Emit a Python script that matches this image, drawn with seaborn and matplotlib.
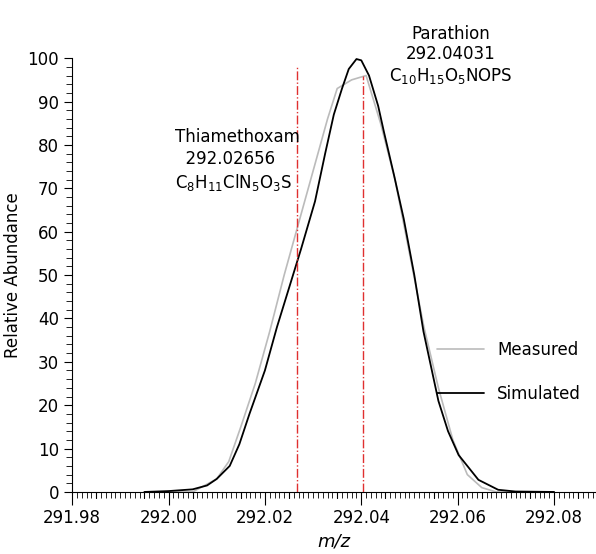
import numpy as np
import matplotlib.pyplot as plt
import seaborn as sns
from matplotlib.ticker import MultipleLocator

sim_mz = [291.995, 292.000, 292.005, 292.008, 292.010, 292.0127, 292.0147, 292.0168, 292.020, 292.0225,
          292.025, 292.0275, 292.0304, 292.0325, 292.0343, 292.036, 292.0374, 292.039, 292.040, 292.0416,
          292.0435, 292.0447, 292.0468, 292.0488, 292.051, 292.0529, 292.056, 292.058, 292.0602, 292.0643,
          292.0684, 292.072, 292.080]
sim_ab = [0, 0.2, 0.6, 1.5, 3, 6, 11, 18, 28, 38,
          47, 56, 67, 78, 87, 93, 97.5, 99.8, 99.5, 96,
          89, 83, 73, 63, 50, 37, 21, 14, 8.5, 2.8,
          0.5, 0.1, 0]
meas_mz = [291.995, 292.005, 292.010, 292.0125, 292.015, 292.018, 292.021, 292.024, 292.027, 292.030, 292.033,
           292.035, 292.038, 292.041, 292.044, 292.047, 292.050, 292.053, 292.056, 292.059, 292.062,
           292.065, 292.068, 292.080]
meas_ab = [0, 0, 3, 7, 15, 25, 37, 50, 62, 74, 86,
           93, 95, 96, 85, 72, 55, 38, 24, 12, 4,
           1, 0, 0]
markers = [292.02656, 292.04031]

sns.set_style("ticks")
plt.rcParams['font.family'] = ['Liberation Sans Narrow', 'DejaVu Sans']
plt.rcParams['text.color'] = 'black'
plt.rcParams['xtick.color'] = 'black'
plt.rcParams['ytick.color'] = 'black'
plt.rcParams['axes.labelcolor'] = 'black'
fig, ax = plt.subplots(figsize=(5.96, 5.54), dpi=100)
fig.subplots_adjust(left=0.121, right=1.0, bottom=0.112, top=0.895)

sns.lineplot(x=meas_mz, y=meas_ab, ax=ax, color='#bbbbbb', lw=1.2, label='Measured')
sns.lineplot(x=sim_mz, y=sim_ab, ax=ax, color='black', lw=1.3, label='Simulated')
ax.vlines(markers[0], 0, 98, color='#e03030', ls='-.', lw=1)
ax.vlines(markers[1], 0, 96, color='#e03030', ls='-.', lw=1)

ax.set_xlim(291.98, 292.0887)
ax.set_ylim(0, 100)
ax.xaxis.set_major_locator(MultipleLocator(0.02))
ax.xaxis.set_minor_locator(MultipleLocator(0.001))
ax.yaxis.set_major_locator(MultipleLocator(10))
ax.yaxis.set_minor_locator(MultipleLocator(2))
ax.xaxis.set_major_formatter(plt.FormatStrFormatter('%.2f'))
ax.tick_params(axis='x', which='major', length=9, labelsize=12)
ax.tick_params(axis='x', which='minor', length=4)
ax.tick_params(axis='y', which='major', length=6, labelsize=12)
ax.tick_params(axis='y', which='minor', length=4)
for v in np.arange(291.985, 292.09, 0.01):
    ax.plot([v, v], [0, -0.013], transform=ax.get_xaxis_transform(), clip_on=False, color='black', lw=0.8)
sns.despine(ax=ax)
ax.spines['left'].set_color('black')
ax.spines['bottom'].set_color('black')
ax.set_xlabel('m/z', fontsize=13, style='italic')
ax.set_ylabel('Relative Abundance', fontsize=12)

ax.text(292.0585, 93.5, 'Parathion\n292.04031\nC$_{10}$H$_{15}$O$_5$NOPS', ha='center', va='bottom',
        fontsize=12, linespacing=1.2)
ax.text(292.0013, 69, 'Thiamethoxam\n  292.02656\nC$_8$H$_{11}$ClN$_5$O$_3$S', ha='left', va='bottom',
        fontsize=12, linespacing=1.25)
ax.legend(loc='lower right', bbox_to_anchor=(1.0, 0.17), frameon=False, fontsize=12,
          handlelength=2.8, labelspacing=1.6)
fig.savefig('out.png')
